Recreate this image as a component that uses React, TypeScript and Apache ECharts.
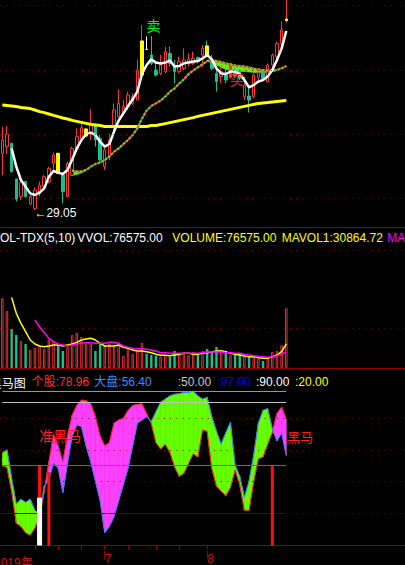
import React, { useEffect, useRef } from "react";
import * as echarts from "echarts";

// ---------- layout slots (category positions across full width) ----------
const SLOTS = 87;
const slotNames = Array.from({ length: SLOTS }, (_, i) => String(i));

// ---------- price panel ----------
// [open, close, low, high]
const candles: number[][] = [
  [31.88, 32.55, 30.8, 33.22],
  [32.22, 32.85, 31.85, 33.25],
  [32.38, 30.97, 30.92, 32.42],
  [30.6, 29.6, 29.47, 30.6],
  [29.72, 30.42, 29.55, 30.55],
  [30.47, 29.72, 29.68, 30.5],
  [29.35, 29.72, 29.3, 29.8],
  [29.13, 30.05, 29.05, 30.18],
  [29.88, 30.3, 29.72, 30.47],
  [30.22, 30.72, 30.13, 30.8],
  [30.47, 31.13, 30.38, 31.22],
  [31.38, 31.8, 30.97, 31.92],
  [31.88, 30.88, 30.85, 31.92],
  [30.8, 29.97, 29.38, 30.8],
  [29.72, 31.38, 29.68, 31.47],
  [30.8, 32.13, 30.75, 32.22],
  [32.13, 32.72, 31.97, 33.13],
  [32.58, 33.17, 32.47, 33.38],
  [32.75, 33.1, 32.72, 33.13],
  [32.88, 33.38, 32.55, 34.08],
  [33.3, 32.55, 32.22, 33.38],
  [32.63, 31.55, 31.38, 32.8],
  [31.22, 32.05, 31.05, 32.3],
  [31.72, 32.55, 31.55, 32.88],
  [33.22, 34.05, 32.88, 34.38],
  [33.72, 34.38, 33.63, 35.08],
  [33.88, 34.22, 33.8, 34.55],
  [34.22, 34.8, 34.05, 34.97],
  [34.38, 34.72, 34.3, 34.88],
  [34.55, 36.05, 34.55, 36.58],
  [35.8, 37.5, 35.75, 38.3],
  [37.08, 37.08, 37.08, 37.72],
  [36.8, 36.38, 36.3, 37.75],
  [36.05, 35.8, 35.72, 36.38],
  [35.88, 36.3, 35.8, 36.8],
  [35.97, 36.97, 35.88, 37.22],
  [36.88, 36.38, 36.22, 37.22],
  [36.3, 35.97, 35.38, 36.55],
  [35.97, 36.47, 35.88, 36.72],
  [36.13, 36.55, 36.05, 37.13],
  [36.35, 36.58, 36.22, 36.88],
  [36.38, 36.63, 36.3, 36.97],
  [36.68, 36.47, 36.38, 36.72],
  [36.8, 37.13, 36.22, 37.3],
  [37.25, 36.8, 36.72, 37.52],
  [36.55, 36.13, 36.05, 36.8],
  [35.88, 35.47, 34.97, 36.22],
  [35.72, 35.97, 35.38, 36.22],
  [35.88, 35.55, 35.38, 36.13],
  [35.68, 36.38, 35.63, 36.42],
  [36.05, 35.75, 35.63, 36.13],
  [35.97, 35.63, 35.55, 36.05],
  [34.72, 35.3, 34.55, 35.72],
  [34.75, 34.55, 33.92, 35.22],
  [34.72, 35.8, 34.63, 35.88],
  [35.68, 35.92, 35.55, 35.97],
  [35.97, 35.63, 35.55, 36.02],
  [35.47, 36.3, 35.42, 36.38],
  [36.3, 36.8, 36.22, 36.88],
  [36.72, 37.38, 36.55, 37.47],
  [37.38, 38.05, 37.3, 38.47],
  [38.52, 38.6, 38.42, 39.9],
];
const yellowCandleIdx = [12, 18, 30, 44, 61];
const filledUpIdx = [49];
const whiteCandleIdx = [31];

const ma5: (number | null)[] = [
  null, null, 32.13, 31.22, 30.55, 30.22, 29.88, 29.8, 29.92, 30.13,
  30.72, 31.0, 30.92, 30.85, 31.05, 31.58, 32.13, 32.55, 32.83, 32.92,
  32.8, 32.47, 32.22, 32.35, 32.97, 33.52, 33.88, 34.25, 34.58, 34.97,
  35.85, 36.3, 36.58, 36.42, 36.38, 36.42, 36.52, 36.22, 36.25, 36.38,
  36.43, 36.47, 36.5, 36.63, 36.8, 36.58, 36.13, 35.88, 35.85, 35.97,
  35.97, 35.85, 35.55, 35.18, 35.3, 35.47, 35.55, 35.72, 36.05, 36.55,
  37.13, 38.0,
];
const ma10: (number | null)[] = [
  null, null, null, null, null, null, null, null, null, null,
  null, null, null, null, null, 31.02, 30.98, 30.98, 31.05, 31.22,
  31.35, 31.42, 31.55, 31.72, 31.97, 32.13, 32.35, 32.55, 32.8, 33.13,
  33.63, 34.02, 34.25, 34.38, 34.52, 34.72, 34.97, 35.13, 35.38, 35.58,
  35.85, 36.02, 36.18, 36.33, 36.5, 36.55, 36.5, 36.45, 36.38, 36.33,
  36.28, 36.25, 36.22, 36.17, 36.12, 36.08, 36.05, 36.02, 36.02, 36.05,
  36.13, 36.25,
];
const maBand: (number | null)[] = [
  null, null, null, null, null, null, null, null, null, null,
  null, null, null, null, null, 30.77, 30.83, 30.9, 31.03, null,
  null, null, null, null, null, null, null, null, null, null,
  null, null, null, null, null, null, null, null, null, null,
  null, null, null, null, 36.48, 36.42, 36.3, 36.17, 36.08, 36.02,
  36.0, 35.98, 35.97, 35.95, 35.93, 35.92, 35.92, 35.93, 35.97, 36.03,
  null, null,
];
const ma60: number[] = [
  34.3, 34.28, 34.25, 34.22, 34.18, 34.15, 34.12, 34.05, 33.97, 33.92,
  33.85, 33.78, 33.72, 33.65, 33.6, 33.53, 33.48, 33.43, 33.38, 33.33,
  33.3, 33.27, 33.23, 33.22, 33.22, 33.22, 33.22, 33.22, 33.22, 33.22,
  33.22, 33.23, 33.27, 33.28, 33.32, 33.37, 33.42, 33.47, 33.52, 33.57,
  33.62, 33.67, 33.73, 33.78, 33.83, 33.88, 33.93, 33.98, 34.03, 34.08,
  34.13, 34.18, 34.23, 34.28, 34.33, 34.37, 34.4, 34.42, 34.45, 34.48,
  34.5, 34.52,
];
const priceGridLevels = [39.27, 36.05, 32.84, 29.63];

// ---------- volume panel ----------
const volume: number[] = [
  89350, 73070, 50000, 42300, 34600, 30770, 23080, 25640, 28200, 24360,
  35900, 33700, 29490, 21800, 26500, 42300, 44870, 39740, 30770, 30770,
  21800, 30770, 28600, 30770, 28200, 29490, 15380, 25210, 17950, 20940,
  32050, 18380, 16670, 15810, 14530, 16670, 14530, 21800, 18800, 18800,
  16240, 20510, 16670, 21800, 24360, 19660, 26920, 19660, 21800, 16670,
  16670, 18800, 14530, 14530, 14530, 11970, 8970, 13250, 20510, 21800,
  29060, 76575,
];
const mavol1: (number | null)[] = [
  null, null, 90600, 70100, 57300, 46500, 35900, 30800, 28200, 27300,
  28200, 29500, 29500, 28200, 29500, 30800, 32900, 35900, 37200, 38100,
  35900, 31700, 28200, 28200, 28200, 29500, 26500, 25200, 23100, 21800,
  21800, 20900, 19600, 17600, 16300, 16300, 15800, 16700, 17600, 18800,
  18800, 17600, 17600, 18800, 19600, 20500, 21800, 22200, 20900, 18800,
  17600, 16700, 15400, 14500, 14500, 13200, 12400, 12400, 14500, 16700,
  20900, 30864.72,
];
const mavol2: (number | null)[] = [
  null, null, null, null, null, null, null, 61500, 52900, 45300,
  38100, 33700, 30800, 29500, 28200, 29500, 30800, 31700, 32500, 32500,
  31700, 31700, 31700, 32900, 32900, 31700, 28200, 26500, 25200, 24700,
  24700, 23900, 23100, 21800, 19600, 19600, 18800, 18800, 18800, 18800,
  18800, 18800, 18800, 19600, 20500, 20500, 20500, 20500, 19600, 19600,
  18800, 18800, 17600, 16700, 15800, 15000, 14500, 13700, 14500, 15800,
  17900, 20500,
];
const volGridLevels = [151300, 51300];

// ---------- 黑马图 panel ----------
const stock: number[] = [
  50, 49, 34, 14, 12, 8, 6.5, 11, 18, 34,
  52.4, 69.6, 62.5, 52.4, 68.6, 81.7, 87.8, 91.2, 90.8, 88.8,
  80.7, 68.6, 62.5, 64.5, 76.7, 78.7, 79.7, 84.7, 87.8, 88.4,
  88.8, 82.5, 76.7, 64.5, 60.5, 63.5, 58.5, 49.4, 43.3, 45.3,
  51.4, 57.5, 55.5, 72.6, 71.6, 48.4, 37.3, 34.2, 31.2, 36.3,
  47.4, 38.3, 22.1, 22.1, 40.3, 54.4, 55.5, 63.5, 71, 82.7,
  86.8, 78.96,
];
const market: number[] = [
  58, 60, 42, 26, 29, 27, 29, 22, 20, 37,
  41.3, 52, 48.4, 33.2, 51.4, 68.6, 75.6, 74.6, 62.5, 52.4,
  40.3, 28.2, 8, 12, 18.1, 28.2, 38.3, 48.4, 62.5, 76.7,
  78.7, 80.7, 77.7, 83.8, 89.8, 91.8, 93.8, 94.8, 95.2, 95.9,
  95.9, 96.8, 93.8, 91.8, 92.8, 80.7, 71.6, 63.5, 70.6, 77.1,
  50.4, 43.3, 30.2, 40.3, 56.5, 76.7, 84.7, 85.8, 73, 65.5,
  70.6, 56.4,
];
const levelValues = [97, 90, 50, 20];
const levelColors = ["#00ff00", "#c0c0c0", "#ff00ff", "#0000ff"];
const levelLabels = [":50.00", ":97.00", ":90.00", ":20.00"];
const levelLabelColors = ["#c8c8c8", "#0000ff", "#ffffff", "#ffff00"];
const lowerGridLevels = [80, 60, 40, 20];
const redSignalIdx = [8, 10, 58];
const redSignalVal = [50, 46, 50];
const whiteSignalIdx = [8];
const whiteSignalVal = [30];

// ---------- date axis ----------
const weekTickIdx = [7, 12, 17, 22, 27, 33, 38, 44];
const monthTickIdx = [22, 44];
const monthNames = ["7", "8"];
const yearLabel = "2019年";

// ---------- colours ----------
const UP = "#ff3535";
const DOWN = "#17c08c";
const FRAME = "#9a0000";
const DOT = "#8a0000";
const LATIN = "'Liberation Sans', Arial, 'Noto Sans CJK SC', sans-serif";
const CJK = "'Noto Sans CJK SC', 'Liberation Sans', sans-serif";

function bandRenderer(upper: (number | null)[], lower: (number | null)[], pos: string, neg: string) {
  return (_p: any, api: any) => {
    const i = api.value(0);
    const a0 = upper[i], b0 = lower[i], a1 = upper[i + 1], b1 = lower[i + 1];
    if (a0 == null || b0 == null || a1 == null || b1 == null) return null;
    const pa0 = api.coord([i, a0]);
    const pb0 = api.coord([i, b0]);
    const pa1 = api.coord([i + 1, a1]);
    const pb1 = api.coord([i + 1, b1]);
    const d0 = a0 - b0;
    const d1 = a1 - b1;
    const poly = (pts: number[][], color: string) => ({
      type: "polygon",
      shape: { points: pts },
      style: { fill: color, stroke: color, lineWidth: 0.6 },
    });
    const children: any[] = [];
    if (d0 * d1 >= 0) {
      children.push(poly([pa0, pa1, pb1, pb0], d0 + d1 >= 0 ? pos : neg));
    } else {
      const t = d0 / (d0 - d1);
      const px = [pa0[0] + t * (pa1[0] - pa0[0]), pa0[1] + t * (pa1[1] - pa0[1])];
      children.push(poly([pa0, px, pb0], d0 > 0 ? pos : neg));
      children.push(poly([px, pa1, pb1], d1 > 0 ? pos : neg));
    }
    return { type: "group", children };
  };
}

function txt(text: string, x: number, y: number, fill: string, size: number, family = LATIN, align = "left") {
  return {
    type: "text",
    x,
    y,
    z: 50,
    silent: true,
    style: {
      text,
      fill,
      font: `${size}px ${family}`,
      align,
      textAlign: align,
      verticalAlign: "middle",
      textVerticalAlign: "middle",
    },
  };
}

function buildOption(): any {
  const n = candles.length;
  const isUp = (i: number) => candles[i][1] > candles[i][0];

  const candleData = candles.map((c, i) => {
    const item: any = { value: c };
    if (filledUpIdx.includes(i)) item.itemStyle = { color: UP, borderColor: UP };
    if (whiteCandleIdx.includes(i))
      item.itemStyle = { color: "#fff", color0: "#fff", borderColor: "#fff", borderColor0: "#fff" };
    return item;
  });
  const yellowData = candles.map((c, i) =>
    yellowCandleIdx.includes(i) ? [c[0], c[1], Math.min(c[0], c[1]), Math.max(c[0], c[1])] : "-"
  );
  const volData = volume.map((v, i) => ({
    value: v,
    itemStyle: isUp(i)
      ? { color: "#000", borderColor: UP, borderWidth: 0.9 }
      : { color: DOWN, borderColor: DOWN, borderWidth: 0 },
  }));
  const bandTopData: number[][] = [];
  for (let i = 0; i < n - 1; i++) if (maBand[i] != null && maBand[i + 1] != null) bandTopData.push([i, maBand[i] as number]);
  const bandLowData = stock.slice(0, -1).map((v, i) => [i, v]);

  const redSig: any[] = new Array(n).fill("-");
  redSignalIdx.forEach((idx, k) => (redSig[idx] = redSignalVal[k]));
  const whiteSig: any[] = new Array(n).fill("-");
  whiteSignalIdx.forEach((idx, k) => (whiteSig[idx] = whiteSignalVal[k]));

  const dotted = { color: DOT, width: 1, type: [1, 5.3] };
  const gridBase = { left: -0.985, width: 405.985 };
  const hiddenY = { show: false, scale: false, splitLine: { show: false } };
  const catAxis = (gridIndex: number, offset: number, showLine: boolean) => ({
    type: "category",
    gridIndex,
    position: "bottom",
    data: slotNames,
    boundaryGap: true,
    offset,
    axisLine: { show: showLine, lineStyle: { color: FRAME, width: 1 } },
    axisTick: { show: false },
    axisLabel: { show: false },
    splitLine: { show: false },
  });

  const lineSeries = (data: any[], xi: number, color: string, width: number, extra: any = {}) => ({
    type: "line",
    xAxisIndex: xi,
    yAxisIndex: xi,
    data,
    symbol: "none",
    showSymbol: false,
    connectNulls: false,
    lineStyle: { color, width, ...(extra.lineStyle || {}) },
    z: extra.z ?? 3,
    silent: true,
  });

  const mavol2Last = mavol2[n - 1] as number;

  const levelLines = levelValues.map((v, k) => {
    const ls = { color: levelColors[k], width: 1, type: "solid" };
    return [
      { coord: [0, v], lineStyle: ls },
      { coord: [n - 1, v], lineStyle: ls },
    ];
  });

  return {
    animation: false,
    backgroundColor: "#000",
    grid: [
      { ...gridBase, top: 0, height: 215 },
      { ...gridBase, top: 250, height: 118 },
      { ...gridBase, top: 386, height: 165.5 },
    ],
    xAxis: [
      catAxis(0, 12, true),
      catAxis(1, 3, true),
      {
        ...catAxis(2, 5.5, true),
        axisTick: {
          show: true,
          alignWithLabel: true,
          length: 4,
          interval: (idx: number) => weekTickIdx.includes(idx),
          lineStyle: { color: FRAME },
        },
      },
      {
        ...catAxis(2, 5.5, false),
        axisTick: {
          show: true,
          alignWithLabel: true,
          length: 8,
          interval: (idx: number) => monthTickIdx.includes(idx),
          lineStyle: { color: FRAME },
        },
        axisLabel: {
          show: true,
          interval: (idx: number) => monthTickIdx.includes(idx),
          formatter: (_v: string, idx: number) => {
            const k = monthTickIdx.indexOf(idx);
            return k >= 0 ? monthNames[k] : "";
          },
          align: "left",
          margin: 2,
          color: "#d01010",
          fontSize: 12,
          fontFamily: LATIN,
        },
      },
      { ...catAxis(2, 0, false), show: false },
    ],
    yAxis: [
      { ...hiddenY, type: "value", gridIndex: 0, min: 28.8, max: 39.55 },
      { ...hiddenY, type: "value", gridIndex: 1, min: 0, max: 151300 },
      { ...hiddenY, type: "value", gridIndex: 2, min: 0, max: 100 },
    ],
    graphic: [
      txt("VOL-TDX(5,10)", -8, 238, "#ffffff", 12),
      txt(`VVOL:${volume[n - 1].toFixed(2)}`, 77.3, 238, "#ffffff", 12),
      txt(`VOLUME:${volume[n - 1].toFixed(2)}`, 172.3, 238, "#ffff00", 12),
      txt(`MAVOL1:${(mavol1[n - 1] as number).toFixed(2)}`, 281.7, 238, "#ffff00", 12),
      txt(`MAVOL2:${mavol2Last.toFixed(2)}`, 387.3, 238, "#ff00ff", 12),
      txt("黑马图", -10.3, 382, "#ffffff", 12, CJK),
      txt(`个股:${stock[n - 1].toFixed(2)}`, 31.7, 382, "#ff3030", 12),
      txt(`大盘:${market[n - 1].toFixed(2)}`, 94.3, 382, "#3a8cff", 12),
      txt(levelLabels[0], 177.7, 382, levelLabelColors[0], 12),
      txt(levelLabels[1], 217.3, 382, levelLabelColors[1], 12),
      txt(levelLabels[2], 256, 382, levelLabelColors[2], 12),
      txt(levelLabels[3], 295, 382, levelLabelColors[3], 12),
      txt("卖", 153.5, 25, "#00ff00", 14, CJK, "center"),
      txt("买", 236.7, 78.5, "#ff2020", 14, CJK, "center"),
      txt("准黑马", 39.3, 434.7, "#ff2020", 14, CJK),
      txt("黑马", 287.3, 436, "#ff2020", 13, CJK),
      txt(yearLabel, -6, 563, "#d01010", 12),
    ],
    series: [
      // ---- price panel ----
      {
        type: "custom",
        xAxisIndex: 0,
        yAxisIndex: 0,
        data: bandTopData,
        encode: { x: 0, y: 1 },
        renderItem: bandRenderer(ma10, maBand, "#62ee1a", "#62ee1a"),
        z: 1,
        silent: true,
      },
      {
        type: "candlestick",
        xAxisIndex: 0,
        yAxisIndex: 0,
        data: candleData,
        barWidth: 3,
        clip: true,
        itemStyle: { color: "#000", color0: DOWN, borderColor: UP, borderColor0: DOWN, borderWidth: 1 },
        markLine: {
          silent: true,
          symbol: ["none", "none"],
          label: { show: false },
          lineStyle: dotted,
          data: priceGridLevels.map((v) => ({ yAxis: v })),
        },
        markPoint: {
          symbol: "rect",
          symbolSize: 1,
          itemStyle: { color: "rgba(0,0,0,0)" },
          data: [{ type: "min", valueDim: "lowest" }],
          label: {
            show: true,
            position: [0, 3.5],
            align: "left",
            verticalAlign: "middle",
            color: "#ffffff",
            fontSize: 12,
            fontFamily: LATIN,
            formatter: (p: any) => "←" + Number(p.value).toFixed(2),
          },
        },
        z: 2,
      },
      {
        type: "candlestick",
        xAxisIndex: 0,
        yAxisIndex: 0,
        data: yellowData,
        barWidth: 3,
        itemStyle: { color: "#ffff00", color0: "#ffff00", borderColor: "#ffff00", borderColor0: "#ffff00", borderWidth: 1 },
        z: 2,
        silent: true,
      },
      lineSeries(ma60, 0, "#ffff00", 3),
      lineSeries(ma10, 0, "#ff3030", 2),
      lineSeries(ma10, 0, "#22ff22", 2, { lineStyle: { type: [2, 2] } }),
      lineSeries(ma5, 0, "#ffffff", 2.5, { z: 4 }),
      // ---- volume panel ----
      {
        type: "bar",
        xAxisIndex: 1,
        yAxisIndex: 1,
        data: volData,
        barWidth: 2.4,
        markLine: {
          silent: true,
          symbol: ["none", "none"],
          label: { show: false },
          lineStyle: dotted,
          data: volGridLevels.map((v) => ({ yAxis: v })),
        },
        z: 2,
        silent: true,
      },
      lineSeries(mavol1, 1, "#ffff00", 1.5),
      lineSeries(mavol2, 1, "#ff00ff", 1.5),
      // ---- 黑马图 panel ----
      {
        type: "custom",
        xAxisIndex: 2,
        yAxisIndex: 2,
        data: bandLowData,
        encode: { x: 0, y: 1 },
        renderItem: bandRenderer(stock, market, "#ff40ff", "#66ff00"),
        z: 1,
        silent: true,
        markLine: {
          silent: true,
          symbol: ["none", "none"],
          label: { show: false },
          data: [...lowerGridLevels.map((v) => ({ yAxis: v, lineStyle: dotted })), ...levelLines],
        },
      },
      lineSeries(stock, 2, "#ff2020", 1),
      lineSeries(market, 2, "#2f86ff", 1),
      {
        type: "bar",
        xAxisIndex: 2,
        yAxisIndex: 2,
        data: redSig,
        barWidth: 3,
        itemStyle: { color: "#ff1010" },
        z: 5,
        silent: true,
      },
      {
        type: "bar",
        xAxisIndex: 4,
        yAxisIndex: 2,
        data: whiteSig,
        barWidth: 5,
        itemStyle: { color: "#ffffff" },
        z: 6,
        silent: true,
      },
    ],
  };
}

export default function App() {
  const ref = useRef<HTMLDivElement>(null);
  useEffect(() => {
    document.body.style.margin = "0";
    document.body.style.background = "#000";
    const chart = echarts.init(ref.current as HTMLDivElement, undefined, { renderer: "svg" });
    chart.setOption(buildOption());
    return () => chart.dispose();
  }, []);
  return <div ref={ref} style={{ width: 405, height: 565, background: "#000" }} />;
}
